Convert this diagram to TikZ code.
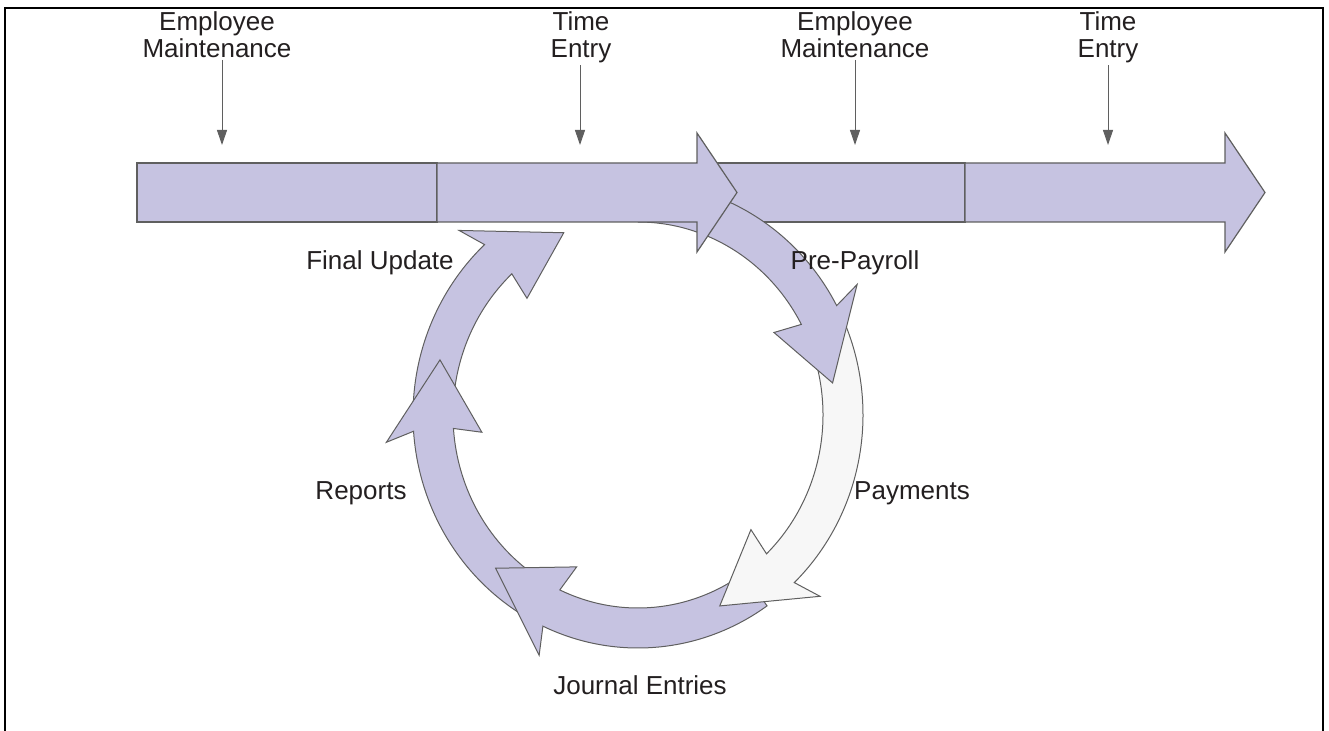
\documentclass[tikz,border=0pt]{standalone}
\usepackage{fontspec}
\setmainfont{Liberation Sans}
\usepackage{xcolor}
\usepackage{tikz}
\usetikzlibrary{arrows.meta}

\definecolor{lilac}{RGB}{198,195,225}
\definecolor{pale}{RGB}{247,247,247}
\definecolor{edgegray}{RGB}{95,95,95}
\definecolor{ink}{RGB}{35,31,32}

\tikzset{
  bar/.style={draw=edgegray,fill=lilac,line width=0.6pt},
  ring/.style={draw=edgegray,fill=lilac,line width=0.5pt},
  lbl/.style={font=\fontsize{13}{13.5}\selectfont,text=ink,align=center,inner sep=1pt},
  tick/.style={draw=edgegray,line width=0.5pt,-{Triangle[length=7.5pt,width=5pt]}}
}

% curved block arrow on the cycle: style, start angle, head base angle, tip angle, tip offset
\newcommand{\ringarrow}[5]{%
  \filldraw [#1] (#2:225 and 233) arc[start angle=#2,end angle=#3-2,x radius=225,y radius=233]
    -- (#3:253 and 261) -- (#4:205+#5 and 213+#5) -- (#3:157 and 165)
    -- (#3-2:185 and 193) arc[start angle=#3-2,end angle=#2,x radius=185,y radius=193] -- cycle;}

\begin{document}
\begin{tikzpicture}[x=0.5pt,y=0.5pt]
  \useasboundingbox (0,0) rectangle (1329,730);
  \draw [line width=1pt] (5,-20) -- (5,722) -- (1323,722) -- (1323,-20);

  %%%%%%%%%%%%%%%% timeline, part under the cycle
  \filldraw [bar] (697,508) rectangle (965,567);

  %%%%%%%%%%%%%%%% payroll cycle
  \begin{scope}[shift={(638,315)}]
    \ringarrow{ring}{177}{135}{113}{-15}         % final update
    \ringarrow{ring}{-122}{-174}{-195}{0}        % reports
    \ringarrow{ring}{-55}{-113}{-134}{0}         % journal entries
    \ringarrow{ring,fill=pale}{22}{-44}{-66}{-4} % payments
    \ringarrow{ring}{90}{30}{9}{-8}              % pre-payroll
  \end{scope}

  %%%%%%%%%%%%%%%% timeline
  \filldraw [bar] (137,508) rectangle (437,567);
  \filldraw [bar] (437,508) -- (437,567) -- (697,567) -- (697,597) -- (737,537.5) -- (697,478) -- (697,508) -- cycle;
  \filldraw [bar] (965,508) -- (965,567) -- (1225,567) -- (1225,597) -- (1265,537.5) -- (1225,478) -- (1225,508) -- cycle;

  %%%%%%%%%%%%%%%% phases on the timeline
  \node [lbl,anchor=north] (em1) at (217,721) {Employee\\Maintenance};
  \node [lbl,anchor=north] (te1) at (581,721) {Time\\Entry};
  \node [lbl,anchor=north] (em2) at (855,721) {Employee\\Maintenance};
  \node [lbl,anchor=north] (te2) at (1108,721) {Time\\Entry};
  \coordinate (p1) at (222,585);
  \coordinate (p2) at (580,585);
  \coordinate (p3) at (855,585);
  \coordinate (p4) at (1108,585);
  \draw [tick] (em1.south -| p1) -- (p1);
  \draw [tick] (te1.south -| p2) -- (p2);
  \draw [tick] (em2.south -| p3) -- (p3);
  \draw [tick] (te2.south -| p4) -- (p4);

  %%%%%%%%%%%%%%%% steps of the cycle
  \node [lbl] (fu) at (380,467) {Final Update};
  \node [lbl] (pp) at (855,467) {Pre-Payroll};
  \node [lbl] (rp) at (361,237) {Reports};
  \node [lbl] (pm) at (912,237) {Payments};
  \node [lbl] (je) at (640,45) {Journal Entries};
\end{tikzpicture}
\end{document}
